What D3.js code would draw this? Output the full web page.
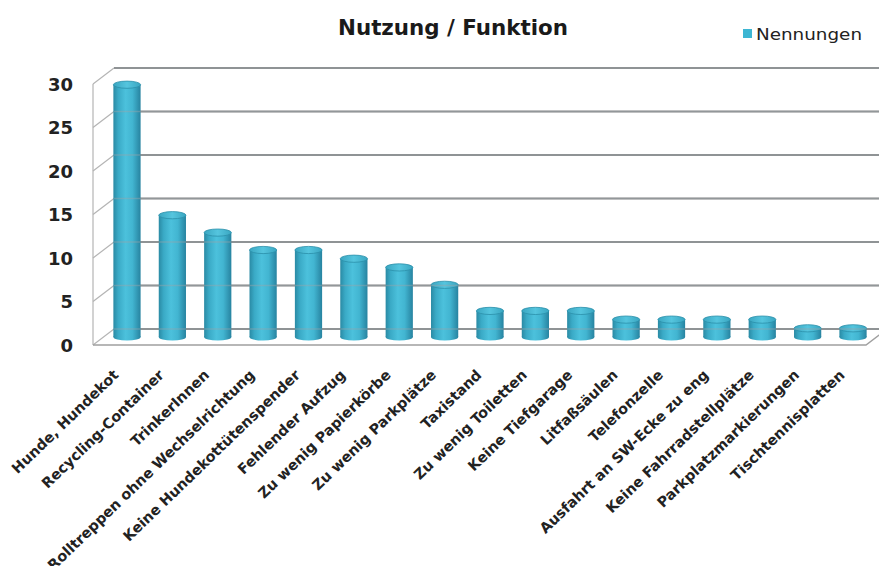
<!DOCTYPE html>
<html>
<head>
<meta charset="utf-8">
<script src="https://cdn.jsdelivr.net/npm/d3@7/dist/d3.min.js"></script>
<style>
  html, body { margin: 0; padding: 0; background: #fff; }
  svg { display: block; }
</style>
</head>
<body>
<svg id="chart" width="879" height="566"></svg>
<script>
// Nutzung / Funktion — Anzahl der Nennungen je Thema
const categories = [
  "Hunde, Hundekot",
  "Recycling-Container",
  "TrinkerInnen",
  "Rolltreppen ohne Wechselrichtung",
  "Keine Hundekottütenspender",
  "Fehlender Aufzug",
  "Zu wenig Papierkörbe",
  "Zu wenig Parkplätze",
  "Taxistand",
  "Zu wenig Toiletten",
  "Keine Tiefgarage",
  "Litfaßsäulen",
  "Telefonzelle",
  "Ausfahrt an SW-Ecke zu eng",
  "Keine Fahrradstellplätze",
  "Parkplatzmarkierungen",
  "Tischtennisplatten"
];
const values = [29, 14, 12, 10, 10, 9, 8, 6, 3, 3, 3, 2, 2, 2, 2, 1, 1];
const yTicks = [0, 5, 10, 15, 20, 25, 30];
const seriesName = "Nennungen";
const title = "Nutzung / Funktion";

const svg = d3.select("#chart");
const font = "'DejaVu Sans', sans-serif";

// 3D box: back wall scale, depth offset toward the viewer
const depthX = 21, depthY = 16;
const wallLeft = 114, wallRight = 879;
const y = d3.scaleLinear().domain([0, 30]).range([329, 68]);   // back wall
const yFront = v => y(v) + depthY;
const yMid = v => y(v) + depthY / 2;

// bars stand at mid depth
const x = d3.scaleBand()
  .domain(categories)
  .range([104.3, 875.7])
  .paddingInner(0.4)
  .paddingOuter(0.2);
const bw = x.bandwidth();
const ry = 3.6;

// defs: cylinder shading
const defs = svg.append("defs");
const body = defs.append("linearGradient").attr("id", "cyl").attr("x1", 0).attr("x2", 1).attr("y1", 0).attr("y2", 0);
[["0%", "#2a8aa4"], ["18%", "#3aaac6"], ["45%", "#4cc1dc"], ["70%", "#42b5d1"], ["100%", "#2783a0"]]
  .forEach(([o, c]) => body.append("stop").attr("offset", o).attr("stop-color", c));
const cap = defs.append("linearGradient").attr("id", "cap").attr("x1", 0).attr("x2", 1).attr("y1", 0).attr("y2", 0);
[["0%", "#3aa6c1"], ["50%", "#55c5de"], ["100%", "#3aa6c1"]]
  .forEach(([o, c]) => cap.append("stop").attr("offset", o).attr("stop-color", c));

// side wall
const side = svg.append("g");
side.append("line")
  .attr("x1", wallLeft - depthX).attr("x2", wallLeft - depthX)
  .attr("y1", yFront(30)).attr("y2", yFront(0))
  .attr("stroke", "#b4b4b4").attr("stroke-width", 1.2);
side.selectAll("line.diag").data(yTicks).join("line")
  .attr("class", "diag")
  .attr("x1", wallLeft - depthX).attr("y1", d => yFront(d))
  .attr("x2", wallLeft).attr("y2", d => y(d))
  .attr("stroke", "#b4b4b4").attr("stroke-width", 1.2);

// back wall gridlines
svg.append("g").selectAll("line").data(yTicks).join("line")
  .attr("x1", wallLeft).attr("x2", wallRight)
  .attr("y1", d => y(d)).attr("y2", d => y(d))
  .attr("stroke", "#8c8c8c").attr("stroke-width", 2);

// floor front edge
const floorRight = 866;
svg.append("path")
  .attr("d", `M${wallLeft - depthX},${yFront(0)} L${floorRight},${yFront(0)} L${floorRight + depthX},${y(0)}`)
  .attr("fill", "none").attr("stroke", "#a0a0a0").attr("stroke-width", 1.5);

// cylinders
const bars = svg.append("g").selectAll("g").data(categories).join("g");
bars.append("ellipse")
  .attr("cx", d => x(d) + bw / 2).attr("cy", yMid(0))
  .attr("rx", bw / 2).attr("ry", ry)
  .attr("fill", "url(#cyl)");
bars.append("rect")
  .attr("x", d => x(d)).attr("width", bw)
  .attr("y", (d, i) => yMid(values[i]))
  .attr("height", (d, i) => yMid(0) - yMid(values[i]))
  .attr("fill", "url(#cyl)");
bars.append("ellipse")
  .attr("cx", d => x(d) + bw / 2).attr("cy", (d, i) => yMid(values[i]))
  .attr("rx", bw / 2).attr("ry", ry)
  .attr("fill", "url(#cap)")
  .attr("stroke", "#2b8fa9").attr("stroke-width", 0.8);

// gridlines faintly showing across the cylinders
svg.append("g").selectAll("line").data(yTicks).join("line")
  .attr("x1", wallLeft).attr("x2", wallRight)
  .attr("y1", d => y(d)).attr("y2", d => y(d))
  .attr("stroke", "#9aa4a8").attr("stroke-width", 1.5).attr("stroke-opacity", 0.45);

// y tick labels
svg.append("g").selectAll("text").data(yTicks).join("text")
  .attr("x", 73).attr("y", d => yFront(d) + 6.5)
  .attr("text-anchor", "end")
  .attr("font-family", font).attr("font-weight", "bold").attr("font-size", 18)
  .attr("fill", "#222")
  .text(d => d);

// category labels, rotated
svg.append("g").selectAll("text").data(categories).join("text")
  .attr("transform", d => `translate(${x(d) + bw / 2 - depthX / 2 + 3},376) rotate(-44)`)
  .attr("text-anchor", "end")
  .attr("font-family", font).attr("font-weight", "bold").attr("font-size", 14.4)
  .attr("fill", "#222")
  .text(d => d);

// title
svg.append("text")
  .attr("x", 453).attr("y", 35)
  .attr("text-anchor", "middle")
  .attr("font-family", font).attr("font-weight", "bold").attr("font-size", 22)
  .attr("textLength", 230).attr("lengthAdjust", "spacingAndGlyphs")
  .attr("fill", "#1a1a1a")
  .text(title);

// legend
const legend = svg.append("g");
legend.append("rect").attr("x", 743).attr("y", 29).attr("width", 9).attr("height", 9).attr("fill", "#3db6d3");
legend.append("text")
  .attr("x", 756).attr("y", 40)
  .attr("font-family", font).attr("font-size", 16)
  .attr("textLength", 106).attr("lengthAdjust", "spacingAndGlyphs")
  .attr("fill", "#222")
  .text(seriesName);
</script>
</body>
</html>
